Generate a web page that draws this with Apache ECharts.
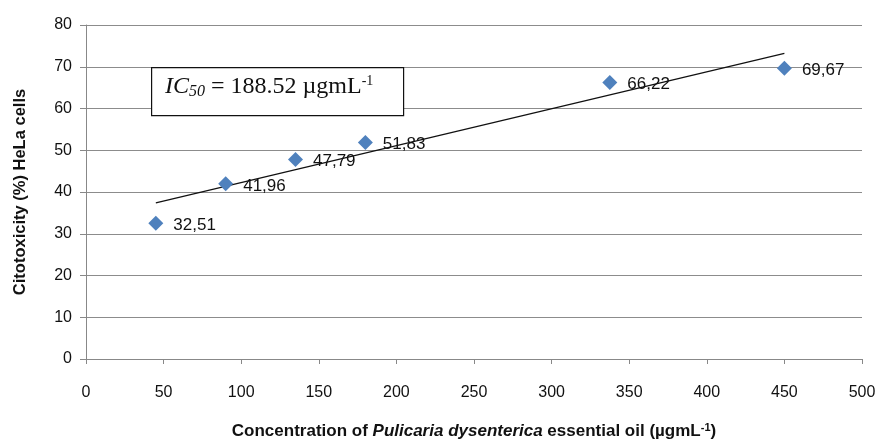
<!DOCTYPE html>
<html><head><meta charset="utf-8">
<script src="https://cdn.jsdelivr.net/npm/echarts@6/dist/echarts.min.js"></script>
<style>html,body{margin:0;padding:0;background:#fff}#c{width:879px;height:440px}</style>
</head><body><div id="c"></div>
<script>
const concentrations = [45, 90, 135, 180, 337.5, 450];
const cytotoxicity = [32.51, 41.96, 47.79, 51.83, 66.22, 69.67];
const pointLabels = ['32,51', '41,96', '47,79', '51,83', '66,22', '69,67'];
const trendX = [45, 450];
const trendY = [37.4, 73.2];
const xTicks = [0, 50, 100, 150, 200, 250, 300, 350, 400, 450, 500];
const yTicks = [0, 10, 20, 30, 40, 50, 60, 70, 80];

const chart = echarts.init(document.getElementById('c'));
const sans = '"Liberation Sans", Arial, sans-serif';
chart.setOption({
  animation: false,
  grid: {left: 86, right: 17, top: 25, bottom: 81, containLabel: false, outerBoundsMode: 'none'},
  xAxis: {
    type: 'value', min: xTicks[0], max: xTicks[xTicks.length-1], interval: 50,
    axisLine: {lineStyle: {color: '#888', width: 1}},
    axisTick: {show: true, length: 5, lineStyle: {color: '#888'}},
    splitLine: {show: false},
    axisLabel: {color: '#111', fontSize: 16, fontFamily: sans, margin: 26},
    name: '{b|Concentration of }{bi|Pulicaria dysenterica}{b| essential oil (µgmL}{sup|-1}{b|)}',
    nameLocation: 'middle', nameGap: 63,
    nameTextStyle: {
      rich: {
        b: {fontSize: 17, fontWeight: 'bold', fontFamily: sans, color: '#111'},
        bi: {fontSize: 17, fontWeight: 'bold', fontStyle: 'italic', fontFamily: sans, color: '#111'},
        sup: {fontSize: 11, fontWeight: 'bold', fontFamily: sans, color: '#111', verticalAlign: 'top', padding: [0,0,8,0]}
      }
    }
  },
  yAxis: {
    type: 'value', min: yTicks[0], max: yTicks[yTicks.length-1], interval: 10,
    axisLine: {show: true, lineStyle: {color: '#888', width: 1}},
    axisTick: {show: true, length: 6, lineStyle: {color: '#888'}},
    splitLine: {show: true, lineStyle: {color: '#8c8c8c', width: 1}},
    axisLabel: {color: '#111', fontSize: 16, fontFamily: sans, margin: 14},
    name: 'Citotoxicity (%) HeLa cells',
    nameLocation: 'middle', nameGap: 57,
    nameTextStyle: {fontSize: 16.5, fontWeight: 'bold', fontFamily: sans, color: '#111'}
  },
  series: [
    {
      type: 'line', data: trendX.map((x, i) => [x, trendY[i]]),
      symbol: 'none', lineStyle: {color: '#111', width: 1.2}, z: 3
    },
    {
      type: 'scatter', data: concentrations.map((x, i) => [x, cytotoxicity[i]]),
      symbol: 'diamond', symbolSize: 15,
      itemStyle: {color: '#4F81BD', opacity: 1},
      label: {show: true, position: 'right', distance: 10, color: '#111', fontSize: 17, fontFamily: sans,
        textBorderWidth: 0, offset: [0, 2],
        formatter: p => pointLabels[p.dataIndex]},
      z: 4
    }
  ],
  graphic: [
    {type: 'rect', left: 151, top: 67, shape: {width: 252, height: 48}, style: {fill: '#fff', stroke: '#111', lineWidth: 1.2}, z: 10},
    {type: 'text', left: 165, top: 74, z: 11, style: {
      text: '{i|IC}{s|50}{n| = 188.52 µgmL}{p|-1}',
      rich: {
        i: {fontSize: 24, fontStyle: 'italic', fontFamily: '"Liberation Serif", "Times New Roman", serif', fill: '#111'},
        s: {fontSize: 16, fontStyle: 'italic', fontFamily: '"Liberation Serif", serif', fill: '#111', verticalAlign: 'bottom', padding: [10,0,0,0]},
        n: {fontSize: 24, fontFamily: '"Liberation Serif", "Times New Roman", serif', fill: '#111'},
        p: {fontSize: 14, fontFamily: '"Liberation Serif", serif', fill: '#111', verticalAlign: 'top', padding: [0,0,10,0]}
      }
    }}
  ]
});
</script></body></html>
